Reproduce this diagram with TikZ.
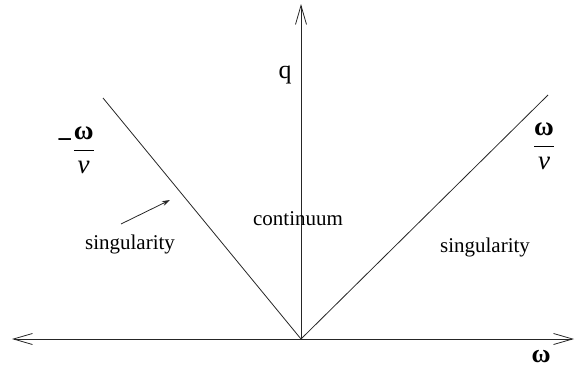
\documentclass[tikz,border=0pt]{standalone}
\usepackage{fontspec}
\setmainfont{Liberation Serif}
\usetikzlibrary{arrows.meta}
\newcommand{\wfrac}{\displaystyle\frac{\hbox{\bfseries ω}}{\hbox{\itshape v}}}
\begin{document}
\begin{tikzpicture}[x=1pt,y=-1pt,
  ax/.style={line width=0.9pt,draw=black!85,-{Straight Barb[length=19pt,width=11pt,line width=0.8pt]}},
  ln/.style={line width=0.8pt,draw=black!85},
  lbl/.style={inner sep=0pt,font=\fontsize{21}{23}\selectfont},
  big/.style={inner sep=0pt,font=\fontsize{26}{28}\selectfont},
  frac/.style={inner sep=0pt,font=\fontsize{27}{29}\selectfont}]
\useasboundingbox (0,0) rectangle (576,372);
\coordinate (O) at (301,339);
\coordinate (L) at (12,339);
\coordinate (R) at (574,339);
\coordinate (T) at (301,4);
\coordinate (A) at (103,98);
\coordinate (B) at (548,95);
\draw[ax] (O) -- (R);
\draw[ax] (O) -- (L);
\draw[ax] (O) -- (T);
\draw[ln] (O) -- (A);
\draw[ln] (O) -- (B);
\coordinate (s1) at (121,224);
\coordinate (s2) at (170,200);
\draw[ln,-{Stealth[length=8pt,width=5pt]}] (s1) -- (s2);
\node[big] (q) at (285,75) {q};
\node[big] (w) at (541,357) {\bfseries ω};
\node[frac] (mw) at (76,150) {$\raisebox{8pt}{\hbox{\bfseries −}}\wfrac$};
\node[frac] (pw) at (544,146) {$\wfrac$};
\node[lbl] (cont) at (298,219) {continuum};
\node[lbl] (sl) at (130,244) {singularity};
\node[lbl] (sr) at (485,247) {singularity};
\end{tikzpicture}
\end{document}
